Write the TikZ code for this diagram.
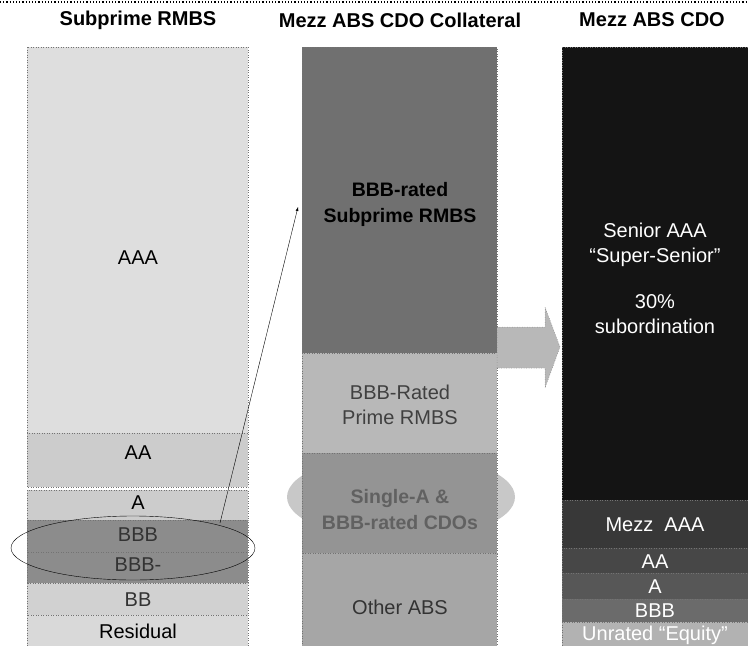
\documentclass[tikz,border=0pt]{standalone}
\usepackage{fontspec}
\setmainfont{Liberation Sans}
\usetikzlibrary{arrows,shapes.geometric}
\definecolor{halo}{RGB}{200,200,200}

\begin{document}
\begin{tikzpicture}[x=1pt,y=-1pt,
  head/.style={font=\bfseries\fontsize{20}{22}\selectfont},
  lab/.style={font=\fontsize{20}{25}\selectfont, align=center, inner sep=0pt},
  blab/.style={lab, font=\bfseries\fontsize{19.5}{26}\selectfont},
  band/.style={draw=black!55, dotted, line width=0.5pt}]
\useasboundingbox (0,0) rectangle (748,646);
\draw [dotted, line width=1.2pt] (0,2)--(748,2);

\node [head] (tsub) at (138,20) {Subprime RMBS};
\node [head] (tcoll) at (400,20) {Mezz ABS CDO Collateral};
\node [head] (tcdo) at (652,20) {Mezz ABS CDO};

% subprime deal
\fill [black!13, band] (27,47) rectangle (248,433);
\fill [black!20, band] (27,433) rectangle (248,487);
\fill [black!20, band] (27,490) rectangle (248,520);
\fill [black!45, band] (27,520) rectangle (248,552);
\fill [black!45, band] (27,552) rectangle (248,583);
\fill [black!18, band] (27,583) rectangle (248,615);
\fill [black!15, band] (27,615) rectangle (248,646);
\node [lab] (aaa) at (138,258) {AAA};
\node [lab] (aa) at (138,453) {AA};
\node [lab] (a) at (138,503) {A};
\node [lab, text=black!80] (bbb) at (138,535) {BBB};
\node [lab, text=black!80] (bbbm) at (138,565) {BBB-};
\node [lab, text=black!80] (bb) at (138,600) {BB};
\node [lab] (resid) at (138,631) {Residual};

% collateral pool
\fill [halo] (401,497) ellipse (114 and 43);
\fill [black!56, band] (302,47) rectangle (497,353);
\fill [black!28, band] (302,353) rectangle (497,453);
\fill [black!42, band] (302,453) rectangle (497,553);
\fill [black!35, band] (302,553) rectangle (497,646);
\node [blab] (subprime) at (400,204) {BBB-rated\\Subprime RMBS};
\node [lab, text=black!75] (prime) at (400,405) {BBB-Rated\\Prime RMBS};
\node [blab, text=black!62] (cdos) at (400,510) {Single-A \&\\BBB-rated CDOs};
\node [lab, text=black!80] (other) at (400,607) {Other ABS};

% pooled into the cdo
\fill [black!28, band] (497,327) -- (545,327) -- (545,307) -- (560,347)
  -- (545,388) -- (545,368) -- (497,368) -- cycle;

% cdo liabilities
\fill [black!92, band] (562,47) rectangle (748,500);
\fill [black!78, band] (562,500) rectangle (748,548);
\fill [black!72, band] (562,548) rectangle (748,573);
\fill [black!66, band] (562,573) rectangle (748,599);
\fill [black!58, band] (562,599) rectangle (748,622);
\fill [black!30, band] (562,622) rectangle (748,646);
\node [lab, text=white] (senior) at (655,245) {Senior AAA\\``Super-Senior''};
\node [lab, text=white] (subord) at (655,314) {30\%\\subordination};
\node [lab, text=white] (mezz) at (655,525) {Mezz\ \ AAA};
\node [lab, text=white] (caa) at (655,562) {AA};
\node [lab, text=white] (ca) at (655,587) {A};
\node [lab, text=white] (cbbb) at (655,611) {BBB};
\node [lab, text=white] (equity) at (655,635) {Unrated ``Equity''};

% bbb tranches feed the collateral
\node [draw, ellipse, minimum width=244pt, minimum height=64pt, inner sep=0pt, thin] (ring) at (133,548) {};
\coordinate (ringtop) at (220,523);
\coordinate (feed) at (298,207);
\draw [-latex, thin] (ringtop) -- (feed);
\end{tikzpicture}
\end{document}
